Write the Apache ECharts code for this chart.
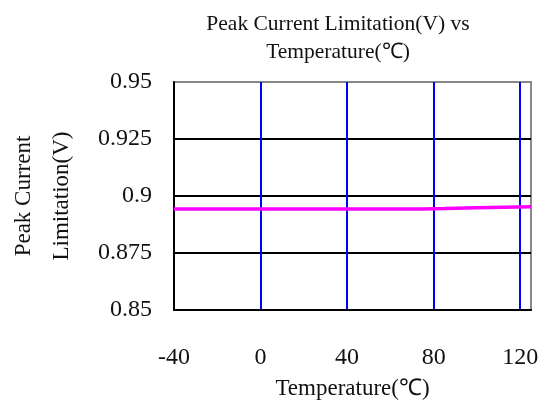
<!DOCTYPE html>
<html><head><meta charset="utf-8">
<script src="https://cdn.jsdelivr.net/npm/echarts@6/dist/echarts.min.js"></script>
<style>html,body{margin:0;padding:0;background:#fff}#c{width:546px;height:401px}</style>
</head><body><div id="c"></div>
<script>
const temps = [-40, -20, 0, 25, 50, 75, 85, 100, 125];
const vpeak = [0.8943, 0.8943, 0.8943, 0.8943, 0.8943, 0.8943, 0.8945, 0.8949, 0.8953];
const titleLines = ['Peak Current Limitation(V) vs', 'Temperature(\u2103)'];
const xName = 'Temperature(\u2103)';
const yName = 'Peak Current\nLimitation(V)';
const yTicks = [0.85, 0.875, 0.9, 0.925, 0.95];

const F = 'Liberation Serif, Times New Roman, serif';
const chart = echarts.init(document.getElementById('c'));
chart.setOption({
  animation: false,
  backgroundColor: '#fff',
  title: {
    text: titleLines.join('\n'), left: 333, top: 5, textAlign: 'center',
    textStyle: {fontFamily: F, fontWeight: 'normal', fontSize: 21.5, color: '#111', lineHeight: 28}
  },
  grid: {left: 174, top: 82, right: 15, bottom: 91, show: true, borderColor: '#888', borderWidth: 2,
    outerBoundsMode: 'none', containLabel: false},
  xAxis: {
    type: 'value', min: -40, max: 125, interval: 40,
    name: xName, nameLocation: 'middle', nameGap: 67,
    nameTextStyle: {fontFamily: F, fontSize: 23, color: '#111'},
    axisLine: {onZero: false, lineStyle: {color: '#000', width: 2}},
    axisTick: {show: false},
    axisLabel: {fontFamily: F, fontSize: 24, color: '#111', margin: 36, showMaxLabel: false},
    splitLine: {show: true, showMinLine: false, showMaxLine: false, lineStyle: {color: '#0000ff', width: 2}}
  },
  yAxis: {
    type: 'value', min: yTicks[0], max: yTicks[yTicks.length - 1], interval: 0.025,
    name: yName, nameLocation: 'middle', nameGap: 93, nameRotate: 90,
    nameTextStyle: {fontFamily: F, fontSize: 23, color: '#111', lineHeight: 38},
    axisLine: {onZero: false, lineStyle: {color: '#000', width: 2}},
    axisTick: {show: false},
    axisLabel: {fontFamily: F, fontSize: 24, color: '#111', margin: 22,
      formatter: v => String(parseFloat(v.toFixed(3)))},
    splitLine: {show: true, showMinLine: false, showMaxLine: false, lineStyle: {color: '#000', width: 2}}
  },
  series: [{
    type: 'line', data: temps.map((t, i) => [t, vpeak[i]]),
    showSymbol: false, lineStyle: {color: '#ff00ff', width: 3.5}, z: 5
  }]
});
</script></body></html>
